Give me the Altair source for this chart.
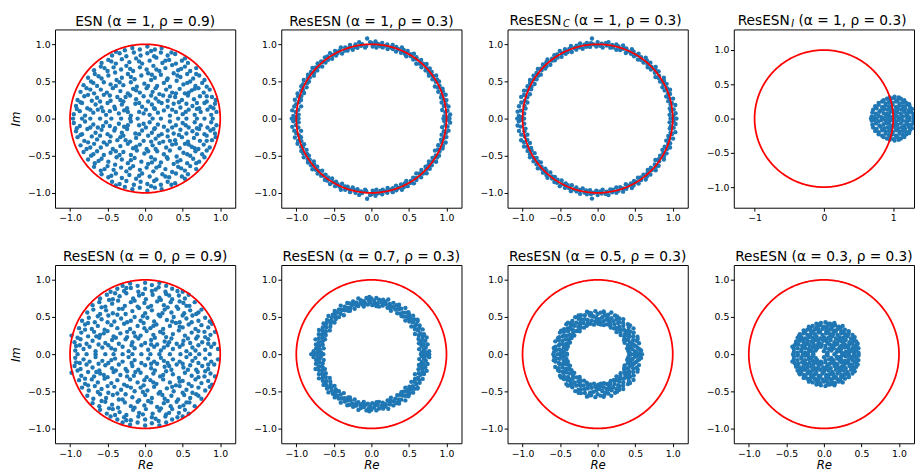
import altair as alt
import numpy as np
import pandas as pd

BLUE = "#1f77b4"
FONT = "DejaVu Sans"

# ---------------- data (eigenvalues) ----------------
# Each "upper" list holds eigenvalues with Im > 0; their complex conjugates are
# also eigenvalues (real matrices), the "real" lists hold the real eigenvalues.

# ESN (alpha=1, rho=0.9): (Re, Im)
esn_upper = [
    (-0.95,0.06),(-0.87,0.1),(-0.8,0.04),(-0.69,0.08),(-0.63,0.12),(-0.52,0.05),(-0.47,0.1),(-0.35,0.07),(-0.28,0.11),(-0.19,0.04),
    (-0.08,0.09),(0.01,0.12),(0.06,0.05),(0.17,0.08),(0.25,0.11),(0.33,0.04),(0.41,0.09),(0.5,0.06),(0.58,0.12),(0.66,0.05),
    (0.74,0.09),(0.83,0.12),(0.88,0.05),(0.95,0.09),
    (-0.92,0.17),(-0.84,0.21),(-0.77,0.14),(-0.66,0.19),(-0.58,0.15),(-0.5,0.21),(-0.41,0.16),(-0.31,0.19),(-0.24,0.14),(-0.13,0.2),
    (-0.04,0.16),(0.09,0.19),(0.12,0.14),(0.22,0.21),(0.3,0.16),(0.38,0.2),(0.47,0.15),(0.55,0.2),(0.63,0.17),(0.72,0.14),
    (0.79,0.21),(0.87,0.16),(0.93,0.2),
    (-0.9,0.25),(-0.81,0.3),(-0.71,0.24),(-0.64,0.28),(-0.55,0.32),(-0.46,0.24),(-0.37,0.29),(-0.29,0.23),(-0.2,0.31),(-0.12,0.26),
    (-0.02,0.3),(0.04,0.23),(0.14,0.27),(0.24,0.31),(0.3,0.24),(0.4,0.29),(0.49,0.25),(0.57,0.31),(0.65,0.26),(0.73,0.3),
    (0.82,0.23),(0.89,0.29),
    (-0.86,0.36),(-0.78,0.41),(-0.68,0.34),(-0.59,0.39),(-0.51,0.35),(-0.43,0.41),(-0.33,0.37),(-0.23,0.34),(-0.16,0.4),(-0.07,0.35),
    (0.02,0.41),(0.1,0.36),(0.19,0.33),(0.28,0.39),(0.36,0.35),(0.46,0.4),(0.53,0.34),(0.62,0.38),(0.71,0.41),(0.78,0.35),(0.86,0.39),
    (-0.82,0.45),(-0.72,0.5),(-0.64,0.44),(-0.55,0.49),(-0.46,0.46),(-0.38,0.52),(-0.29,0.45),(-0.19,0.49),(-0.11,0.43),(-0.01,0.47),
    (0.08,0.52),(0.16,0.44),(0.25,0.48),(0.33,0.43),(0.42,0.51),(0.51,0.46),(0.6,0.5),(0.67,0.44),(0.76,0.48),(0.82,0.43),
    (-0.76,0.55),(-0.67,0.6),(-0.58,0.54),(-0.49,0.58),(-0.4,0.62),(-0.31,0.55),(-0.23,0.6),(-0.14,0.53),(-0.05,0.58),(0.04,0.61),
    (0.13,0.55),(0.21,0.59),(0.3,0.54),(0.38,0.61),(0.47,0.56),(0.56,0.6),(0.64,0.54),(0.72,0.58),
    (-0.68,0.65),(-0.59,0.7),(-0.5,0.64),(-0.42,0.69),(-0.32,0.66),(-0.25,0.71),(-0.16,0.64),(-0.07,0.69),(0.02,0.66),(0.11,0.71),
    (0.19,0.64),(0.27,0.68),(0.36,0.72),(0.44,0.65),(0.53,0.7),(0.6,0.64),(0.68,0.68),
    (-0.58,0.75),(-0.49,0.79),(-0.39,0.74),(-0.31,0.8),(-0.21,0.76),(-0.12,0.81),(-0.04,0.74),(0.06,0.78),(0.15,0.82),(0.23,0.75),
    (0.32,0.79),(0.41,0.74),(0.49,0.78),(0.57,0.75),
    (-0.44,0.85),(-0.34,0.88),(-0.25,0.84),(-0.15,0.89),(-0.06,0.85),(0.03,0.88),(0.12,0.84),(0.21,0.89),(0.3,0.85),(0.4,0.87),
    (-0.27,0.92),(-0.17,0.95),(-0.07,0.93),(0.03,0.97),(0.13,0.93),(0.22,0.95),
    (-0.91,0.13),(-0.73,0.12),(-0.56,0.1),(-0.4,0.13),(-0.23,0.09),(-0.02,0.07),(0.13,0.13),(0.36,0.12),(0.54,0.09),(0.69,0.13),
    (0.91,0.14),(-0.86,0.22),(-0.6,0.23),(-0.33,0.25),(-0.08,0.21),(0.18,0.23),(0.45,0.22),(0.69,0.21),(0.94,0.25),
    (-0.76,0.32),(-0.47,0.31),(-0.26,0.29),(0.08,0.31),(0.33,0.3),(0.58,0.35),(0.82,0.3),
    (-0.73,0.39),(-0.39,0.44),(-0.12,0.38),(0.14,0.41),(0.41,0.34),(0.66,0.4),
    (-0.69,0.48),(-0.34,0.49),(0.04,0.44),(0.29,0.52),(0.56,0.48),(0.79,0.52),
    (-0.62,0.57),(-0.19,0.56),(0.09,0.59),(0.43,0.58),(0.68,0.6),
    (-0.54,0.68),(-0.2,0.67),(0.15,0.66),(0.48,0.67),
    (-0.45,0.77),(-0.08,0.77),(0.27,0.78),(0.53,0.81),
    (-0.39,0.9),(0.08,0.91),(0.35,0.89),
]
esn_real = [-0.96,-0.84,-0.73,-0.6,-0.45,-0.32,-0.2,-0.1,0.1,0.21,0.44,0.55,0.69,0.79,0.9]

# ResESN (alpha=0, rho=0.9): (Re, Im)
res0_upper = [
    (-0.93,0.05),(-0.92,0.11),(-0.82,0.07),(-0.74,0.1),(-0.66,0.04),(-0.57,0.09),(-0.49,0.12),(-0.4,0.06),(-0.3,0.1),(-0.22,0.04),
    (-0.14,0.08),(-0.05,0.12),(0.04,0.06),(0.12,0.1),(0.21,0.05),(0.3,0.12),(0.37,0.07),(0.46,0.1),(0.55,0.04),(0.63,0.09),
    (0.71,0.12),(0.8,0.06),(0.88,0.1),(0.97,0.07),
    (-0.94,0.16),(-0.86,0.2),(-0.78,0.14),(-0.7,0.18),(-0.61,0.22),(-0.53,0.15),(-0.44,0.19),(-0.35,0.14),(-0.26,0.2),(-0.17,0.16),
    (-0.09,0.21),(0.0,0.15),(0.08,0.19),(0.16,0.13),(0.26,0.17),(0.35,0.21),(0.42,0.14),(0.51,0.18),(0.6,0.15),(0.68,0.21),
    (0.76,0.16),(0.84,0.2),(0.92,0.14),
    (-0.98,0.25),(-0.85,0.29),(-0.76,0.24),(-0.68,0.3),(-0.6,0.26),(-0.5,0.31),(-0.42,0.24),(-0.33,0.28),(-0.24,0.23),(-0.15,0.29),
    (-0.06,0.25),(0.02,0.31),(0.11,0.26),(0.2,0.3),(0.28,0.23),(0.37,0.27),(0.45,0.32),(0.53,0.25),(0.62,0.29),(0.7,0.24),
    (0.79,0.3),(0.87,0.26),(0.93,0.3),
    (-0.88,0.35),(-0.8,0.4),(-0.71,0.34),(-0.63,0.38),(-0.54,0.33),(-0.45,0.39),(-0.37,0.35),(-0.28,0.41),(-0.2,0.34),(-0.1,0.38),
    (-0.02,0.42),(0.07,0.35),(0.15,0.4),(0.24,0.34),(0.33,0.38),(0.41,0.42),(0.5,0.36),(0.58,0.4),(0.67,0.34),(0.75,0.39),
    (0.84,0.36),(0.89,0.41),
    (-0.84,0.45),(-0.75,0.49),(-0.67,0.43),(-0.58,0.47),(-0.49,0.52),(-0.41,0.44),(-0.32,0.48),(-0.24,0.43),(-0.14,0.5),(-0.06,0.45),
    (0.03,0.49),(0.12,0.44),(0.2,0.51),(0.29,0.46),(0.38,0.5),(0.46,0.43),(0.55,0.48),(0.63,0.52),(0.71,0.45),(0.8,0.49),
    (-0.77,0.56),(-0.69,0.6),(-0.6,0.54),(-0.52,0.59),(-0.43,0.55),(-0.35,0.61),(-0.26,0.54),(-0.17,0.58),(-0.08,0.62),(0.0,0.55),
    (0.09,0.59),(0.18,0.53),(0.26,0.6),(0.35,0.56),(0.44,0.61),(0.52,0.55),(0.6,0.59),(0.68,0.54),(0.75,0.6),
    (-0.7,0.66),(-0.61,0.7),(-0.53,0.64),(-0.44,0.68),(-0.36,0.72),(-0.27,0.65),(-0.19,0.7),(-0.1,0.64),(-0.01,0.69),(0.08,0.65),
    (0.16,0.71),(0.25,0.66),(0.34,0.7),(0.42,0.64),(0.51,0.69),(0.59,0.65),(0.66,0.7),
    (-0.6,0.75),(-0.51,0.8),(-0.43,0.74),(-0.34,0.78),(-0.25,0.82),(-0.16,0.75),(-0.08,0.79),(0.01,0.74),(0.1,0.8),(0.19,0.76),
    (0.28,0.81),(0.36,0.74),(0.45,0.79),(0.53,0.75),(0.58,0.8),
    (-0.46,0.84),(-0.37,0.88),(-0.28,0.85),(-0.19,0.89),(-0.09,0.84),(0.0,0.88),(0.09,0.85),(0.18,0.9),(0.27,0.84),(0.36,0.88),(0.43,0.85),
    (-0.3,0.92),(-0.2,0.95),(-0.1,0.92),(0.0,0.96),(0.09,0.93),(0.19,0.96),(0.28,0.92),
    (-0.87,0.12),(-0.62,0.13),(-0.45,0.08),(-0.18,0.12),(0.08,0.13),(0.25,0.09),(0.5,0.13),(0.67,0.05),(0.84,0.14),
    (-0.9,0.22),(-0.65,0.24),(-0.39,0.22),(-0.13,0.24),(0.13,0.22),(0.32,0.16),(0.57,0.21),(0.8,0.23),
    (-0.8,0.33),(-0.55,0.28),(-0.24,0.3),(-0.01,0.35),(0.24,0.28),(0.46,0.37),(0.71,0.31),
    (-0.76,0.42),(-0.5,0.43),(-0.19,0.45),(0.11,0.38),(0.36,0.44),(0.62,0.43),(0.86,0.44),
    (-0.63,0.51),(-0.37,0.53),(-0.03,0.51),(0.23,0.55),(0.5,0.52),(0.71,0.56),
    (-0.58,0.63),(-0.3,0.61),(0.04,0.63),(0.3,0.63),(0.55,0.65),
    (-0.48,0.73),(-0.14,0.72),(0.21,0.73),(0.46,0.71),
    (-0.4,0.82),(-0.03,0.81),(0.32,0.79),(0.5,0.84),
    (-0.25,0.89),(0.14,0.87),
]
res0_real = [-0.9,-0.78,-0.66,-0.53,-0.42,-0.3,-0.17,-0.05,0.07,0.19,0.33,0.47,0.6,0.72,0.86]

# ResESN (alpha=1, rho=0.3): (angle in degrees, modulus)
res1_upper_polar = [
    (1,1.03),(2,0.97),(3,1.05),(5,0.99),(6,1.02),(7,0.95),(9,1.04),(10,0.98),(11,1.01),(13,0.96),(14,1.03),(15,1.0),(17,0.97),
    (18,1.04),(19,0.99),(21,1.02),(22,0.96),(23,1.03),(25,0.98),(26,1.01),(27,0.95),(29,1.03),(30,0.99),(31,1.02),(33,0.97),
    (34,1.04),(35,1.0),(37,0.96),(38,1.02),(39,0.98),(41,1.03),(42,0.97),(43,1.0),(45,1.04),(46,0.96),(47,1.01),(49,0.98),
    (50,1.03),(51,0.95),(53,1.0),(54,1.02),(55,0.97),(57,1.04),(58,0.99),(59,1.01),(61,0.96),(62,1.03),(63,0.98),(65,1.02),
    (66,0.97),(67,1.04),(69,1.0),(70,0.96),(71,1.02),(73,0.98),(74,1.03),(75,0.99),(77,0.96),(78,1.02),(79,1.0),(81,0.97),
    (82,1.03),(83,0.98),(85,1.01),(86,0.96),(87,1.04),(88,1.0),(89,0.97),(90,1.02),(91,1.03),(93,1.08),(94,0.98),(95,0.96),
    (97,1.01),(98,0.99),(99,1.04),(101,0.97),(102,1.02),(103,0.99),(105,0.96),(106,1.03),(107,1.0),(109,0.97),(110,1.02),
    (111,0.98),(113,1.04),(114,0.96),(115,1.01),(117,0.99),(118,1.03),(119,0.97),(121,1.0),(122,1.04),(123,0.96),(125,1.02),
    (126,0.98),(127,1.03),(129,0.97),(130,1.0),(131,1.02),(133,0.96),(134,1.03),(135,0.99),(137,1.01),(138,0.97),(139,1.04),
    (141,0.98),(142,1.02),(143,0.96),(145,1.03),(146,0.99),(147,1.01),(149,0.97),(150,1.04),(151,0.98),(153,1.02),(154,0.96),
    (155,1.03),(157,0.99),(158,1.01),(159,0.96),(161,1.04),(162,0.98),(163,1.02),(165,0.97),(166,1.05),(167,0.99),(169,1.02),
    (170,0.95),(171,1.04),(173,0.98),(174,1.06),(175,1.01),(177,0.97),(178,1.04),(179,1.0),
]
res1_real = [-1.06,-1.02,-0.97,0.96,1.0,1.04]

# ResESN_C (alpha=1, rho=0.3): (angle in degrees, modulus)
resc_upper_polar = [
    (2,1.01),(3,0.96),(4,1.04),(6,0.98),(7,1.02),(8,0.97),(10,1.05),(11,0.99),(12,1.01),(14,0.97),(15,1.04),(16,0.99),(18,0.96),
    (19,1.02),(20,1.0),(22,1.04),(23,0.97),(24,1.01),(26,0.96),(27,1.03),(28,0.99),(30,1.02),(31,0.97),(32,1.04),(34,0.98),
    (35,1.0),(36,0.95),(38,1.03),(39,0.98),(40,1.01),(42,1.04),(43,0.97),(44,1.0),(46,0.96),(47,1.03),(48,0.99),(50,1.02),
    (51,0.97),(52,1.04),(54,0.98),(55,1.01),(56,0.96),(58,1.03),(59,1.0),(60,0.97),(62,1.02),(63,0.98),(64,1.04),(66,0.99),
    (67,0.96),(68,1.02),(70,1.0),(71,1.04),(72,0.97),(74,1.01),(75,0.96),(76,1.03),(78,0.98),(79,1.01),(80,0.97),(82,1.04),
    (83,0.99),(84,1.02),(86,0.96),(87,1.01),(88,0.98),(90,1.03),(91,0.97),(93,1.0),(94,1.08),(95,1.02),(96,0.97),(98,1.03),
    (99,0.98),(100,1.01),(102,0.96),(103,1.04),(104,0.99),(106,1.02),(107,0.97),(108,1.0),(110,1.04),(111,0.96),(112,1.01),
    (114,0.98),(115,1.03),(116,0.97),(118,1.0),(119,1.04),(120,0.96),(122,1.02),(123,0.98),(124,1.03),(126,0.97),(127,1.01),
    (128,0.99),(130,1.04),(131,0.96),(132,1.02),(134,0.98),(135,1.03),(136,0.97),(138,1.01),(139,0.99),(140,1.04),(142,0.96),
    (143,1.02),(144,0.98),(146,1.03),(147,0.97),(148,1.0),(150,1.04),(151,0.96),(152,1.02),(154,0.98),(155,1.03),(156,0.97),
    (158,1.01),(159,1.05),(160,0.96),(162,1.03),(163,0.98),(164,1.06),(166,1.0),(167,0.96),(168,1.04),(170,0.99),(171,1.06),
    (172,0.97),(174,1.03),(175,1.07),(176,0.98),(178,1.05),(179,1.01),
]
resc_real = [-1.07,-1.03,-0.98,0.97,1.01,1.05]

# ResESN_I (alpha=1, rho=0.3): (Re, Im)
resi_upper = [
    (0.69,0.03),(0.73,0.02),(0.79,0.04),(0.83,0.02),(0.89,0.03),(0.94,0.05),(0.98,0.02),(1.04,0.04),(1.08,0.02),(1.14,0.03),
    (1.19,0.05),(1.23,0.02),(1.29,0.04),
    (0.7,0.09),(0.75,0.07),(0.8,0.1),(0.86,0.08),(0.91,0.07),(0.96,0.1),(1.01,0.08),(1.06,0.09),(1.11,0.07),(1.16,0.1),
    (1.21,0.08),(1.26,0.09),(1.3,0.07),
    (0.71,0.13),(0.76,0.15),(0.82,0.12),(0.87,0.14),(0.92,0.13),(0.97,0.15),(1.02,0.12),(1.07,0.14),(1.12,0.13),(1.17,0.15),
    (1.22,0.12),(1.27,0.14),
    (0.74,0.18),(0.79,0.2),(0.84,0.17),(0.89,0.19),(0.94,0.18),(0.99,0.2),(1.04,0.17),(1.09,0.19),(1.14,0.18),(1.19,0.2),(1.24,0.17),
    (0.79,0.23),(0.84,0.25),(0.89,0.22),(0.94,0.24),(0.99,0.23),(1.04,0.25),(1.09,0.22),(1.14,0.24),(1.19,0.23),(1.23,0.21),
    (0.86,0.27),(0.91,0.29),(0.96,0.28),(1.01,0.3),(1.06,0.27),(1.11,0.29),(1.16,0.27),
    (0.95,0.31),(1.02,0.32),(1.08,0.31),
]
resi_real = [0.68,0.76,0.85,0.93,1.02,1.11,1.2,1.29]

# ResESN (alpha=0.7, rho=0.3): (angle in degrees, modulus)
res07_upper_polar = [
    (1,0.74),(2,0.67),(3,0.77),(5,0.7),(6,0.64),(7,0.73),(9,0.68),(10,0.76),(11,0.71),(13,0.65),(14,0.74),(15,0.69),(17,0.77),
    (18,0.66),(19,0.72),(21,0.75),(22,0.68),(23,0.71),(25,0.64),(26,0.76),(27,0.7),(29,0.73),(30,0.67),(31,0.75),(33,0.69),
    (34,0.72),(35,0.65),(37,0.77),(38,0.7),(39,0.74),(41,0.67),(42,0.71),(43,0.76),(45,0.64),(46,0.73),(47,0.69),(49,0.75),
    (50,0.66),(51,0.72),(53,0.7),(54,0.77),(55,0.67),(57,0.73),(58,0.65),(59,0.71),(61,0.76),(62,0.68),(63,0.74),(65,0.7),
    (66,0.64),(67,0.75),(69,0.69),(70,0.72),(71,0.66),(73,0.77),(74,0.7),(75,0.73),(77,0.67),(78,0.75),(79,0.71),(81,0.65),
    (82,0.74),(83,0.69),(85,0.76),(86,0.68),(87,0.72),(89,0.66),(90,0.75),(91,0.7),(93,0.73),(94,0.67),(95,0.76),(97,0.69),
    (98,0.72),(99,0.65),(101,0.74),(102,0.7),(103,0.77),(105,0.67),(106,0.72),(107,0.69),(109,0.75),(110,0.65),(111,0.71),
    (113,0.74),(114,0.68),(115,0.76),(117,0.7),(118,0.66),(119,0.73),(121,0.69),(122,0.77),(123,0.71),(125,0.64),(126,0.74),
    (127,0.68),(129,0.72),(130,0.76),(131,0.66),(133,0.7),(134,0.74),(135,0.67),(137,0.72),(138,0.77),(139,0.65),(141,0.71),
    (142,0.75),(143,0.68),(145,0.73),(146,0.66),(147,0.76),(149,0.7),(150,0.64),(151,0.74),(153,0.68),(154,0.72),(155,0.77),
    (157,0.66),(158,0.71),(159,0.75),(161,0.69),(162,0.65),(163,0.73),(165,0.77),(166,0.68),(167,0.72),(169,0.66),(170,0.75),
    (171,0.7),(173,0.64),(174,0.74),(175,0.69),(177,0.77),(178,0.67),(179,0.72),
    (4,0.71),(12,0.67),(16,0.71),(20,0.74),(28,0.7),(36,0.76),(44,0.69),(48,0.74),(52,0.65),(60,0.73),(68,0.67),(76,0.7),
    (84,0.65),(92,0.77),(100,0.68),(108,0.73),(116,0.65),(124,0.72),(132,0.73),(140,0.69),(148,0.72),(156,0.7),(164,0.67),
    (172,0.72),(176,0.71),
]
res07_real = [-0.8,-0.75,-0.69,-0.64,0.66,0.71,0.77]

# ResESN (alpha=0.5, rho=0.3): (angle in degrees, modulus)
res05_upper_polar = [
    (1,0.55),(2,0.43),(4,0.5),(5,0.58),(6,0.41),(8,0.47),(9,0.54),(11,0.4),(12,0.52),(13,0.45),(15,0.57),(16,0.49),(17,0.42),
    (19,0.55),(20,0.46),(22,0.51),(23,0.39),(24,0.58),(26,0.44),(27,0.53),(29,0.48),(30,0.41),(31,0.56),(33,0.5),(34,0.43),
    (36,0.59),(37,0.46),(38,0.52),(40,0.4),(41,0.55),(43,0.48),(44,0.42),(45,0.57),(47,0.45),(48,0.51),(50,0.39),(51,0.54),
    (52,0.47),(54,0.58),(55,0.43),(57,0.5),(58,0.41),(59,0.56),(61,0.46),(62,0.53),(64,0.4),(65,0.49),(66,0.57),(68,0.44),
    (69,0.52),(71,0.47),(72,0.59),(73,0.42),(75,0.55),(76,0.48),(78,0.4),(79,0.53),(80,0.45),(82,0.58),(83,0.5),(85,0.43),
    (86,0.56),(87,0.47),(89,0.41),(90,0.54),(92,0.49),(93,0.58),(94,0.44),(96,0.51),(97,0.4),(99,0.56),(100,0.46),(101,0.53),
    (103,0.42),(104,0.59),(106,0.48),(107,0.44),(108,0.55),(110,0.5),(111,0.41),(113,0.57),(114,0.46),(115,0.52),(117,0.4),
    (118,0.54),(120,0.47),(121,0.58),(122,0.43),(124,0.51),(125,0.45),(127,0.56),(128,0.39),(129,0.49),(131,0.55),(132,0.42),
    (134,0.52),(135,0.47),(136,0.58),(138,0.44),(139,0.53),(141,0.4),(142,0.5),(143,0.56),(145,0.45),(146,0.54),(148,0.41),
    (149,0.48),(150,0.58),(152,0.43),(153,0.52),(155,0.47),(156,0.56),(157,0.4),(159,0.5),(160,0.55),(162,0.44),(163,0.59),
    (164,0.48),(166,0.41),(167,0.53),(169,0.46),(170,0.57),(171,0.42),(173,0.51),(174,0.55),(176,0.45),(177,0.58),(178,0.49),
    (3,0.52),(7,0.56),(10,0.44),(14,0.5),(18,0.48),(21,0.57),(25,0.45),(28,0.4),(32,0.47),(35,0.53),(39,0.49),(42,0.58),
    (49,0.44),(56,0.52),(63,0.57),(67,0.42),(74,0.5),(81,0.56),(84,0.4),(91,0.45),(98,0.52),(102,0.57),(109,0.42),(116,0.58),
    (119,0.48),(126,0.41),(130,0.52),(133,0.58),(137,0.5),(144,0.42),(147,0.58),(151,0.52),(154,0.44),(158,0.57),(161,0.42),
    (165,0.52),(168,0.44),(172,0.59),(175,0.48),(179,0.41),
]
res05_real = [-0.59,-0.53,-0.47,-0.41,0.42,0.48,0.55,0.59]

# ResESN (alpha=0.3, rho=0.3): (Re, Im)
res03_upper = [
    (-0.4,0.03),(-0.35,0.02),(-0.3,0.04),(-0.25,0.02),(-0.2,0.04),(-0.15,0.03),(-0.11,0.05),(0.0,0.04),(0.05,0.02),(0.1,0.05),
    (0.17,0.03),(0.21,0.04),(0.24,0.02),(0.29,0.03),(0.33,0.02),(0.37,0.04),(0.41,0.03),(0.46,0.02),
    (-0.4,0.07),(-0.35,0.08),(-0.3,0.06),(-0.25,0.08),(-0.2,0.07),(-0.15,0.09),(-0.09,0.08),(-0.04,0.1),(0.02,0.08),(0.07,0.07),
    (0.13,0.08),(0.18,0.06),(0.23,0.07),(0.28,0.09),(0.33,0.07),(0.38,0.08),(0.43,0.06),(0.46,0.08),
    (-0.39,0.12),(-0.34,0.13),(-0.29,0.11),(-0.24,0.13),(-0.19,0.12),(-0.14,0.14),(-0.09,0.12),(-0.03,0.13),(0.02,0.11),(0.08,0.13),
    (0.13,0.12),(0.18,0.14),(0.23,0.11),(0.28,0.13),(0.33,0.12),(0.38,0.14),(0.43,0.12),
    (-0.37,0.17),(-0.32,0.18),(-0.27,0.16),(-0.22,0.18),(-0.17,0.17),(-0.12,0.19),(-0.07,0.16),(-0.01,0.18),(0.04,0.17),(0.09,0.19),
    (0.14,0.16),(0.19,0.18),(0.24,0.17),(0.29,0.19),(0.34,0.16),(0.39,0.18),(0.43,0.17),
    (-0.35,0.22),(-0.3,0.23),(-0.25,0.21),(-0.2,0.23),(-0.15,0.22),(-0.1,0.24),(-0.05,0.21),(0.0,0.23),(0.06,0.22),(0.11,0.24),
    (0.16,0.21),(0.21,0.23),(0.26,0.22),(0.31,0.24),(0.36,0.21),(0.41,0.23),
    (-0.32,0.27),(-0.27,0.28),(-0.22,0.26),(-0.17,0.28),(-0.12,0.27),(-0.07,0.29),(-0.02,0.26),(0.03,0.28),(0.08,0.27),(0.13,0.29),
    (0.18,0.26),(0.23,0.28),(0.28,0.27),(0.33,0.29),(0.38,0.26),
    (-0.27,0.32),(-0.22,0.33),(-0.17,0.31),(-0.12,0.33),(-0.07,0.32),(-0.02,0.34),(0.03,0.31),(0.08,0.33),(0.13,0.32),(0.18,0.34),
    (0.23,0.31),(0.28,0.33),(0.33,0.31),
    (-0.2,0.37),(-0.15,0.38),(-0.1,0.36),(-0.05,0.39),(0.0,0.37),(0.05,0.38),(0.1,0.36),(0.15,0.39),(0.2,0.37),(0.25,0.38),
    (-0.1,0.41),(-0.04,0.42),(0.02,0.43),(0.08,0.41),(0.14,0.42),
    (-0.42,0.1),(-0.37,0.15),(-0.32,0.2),(-0.27,0.1),(-0.22,0.14),(-0.17,0.05),(-0.12,0.1),(-0.06,0.14),(0.05,0.15),(0.11,0.1),
    (0.16,0.13),(0.21,0.09),(0.26,0.15),(0.31,0.1),(0.36,0.15),(0.41,0.1),(0.45,0.14),
    (-0.33,0.25),(-0.28,0.2),(-0.18,0.24),(-0.08,0.19),(0.02,0.2),(0.12,0.26),(0.22,0.2),(0.32,0.26),(0.4,0.2),
    (-0.25,0.3),(-0.15,0.3),(-0.05,0.3),(0.05,0.3),(0.16,0.31),(0.26,0.3),
    (-0.18,0.35),(-0.08,0.35),(0.03,0.35),(0.12,0.38),(0.22,0.35),
    (-0.07,0.4),(0.05,0.41),(0.11,0.4),
]
res03_real = [-0.41,-0.35,-0.28,-0.21,-0.14,0.04,0.14,0.27,0.33,0.4,0.46]

# ---------------- panel layout constants ----------------
PANEL_W = 184
PANEL_H = 182
DOM = [-1.2, 1.2]
DOM_I = [-1.3, 1.3]
TICKS = [-1.0, -0.5, 0.0, 0.5, 1.0]
TICKS_I = [-1, 0, 1]


def cloud(upper, real):
    xs = [p[0] for p in upper] + [p[0] for p in upper] + list(real)
    ys = [p[1] for p in upper] + [-p[1] for p in upper] + [0.0] * len(real)
    return pd.DataFrame({"x": xs, "y": ys})


def polar_cloud(upper_polar, real):
    upper = [(r * np.cos(np.radians(a)), r * np.sin(np.radians(a))) for a, r in upper_polar]
    return cloud(upper, real)


# unit circle (reference curve |lambda| = 1)
theta = np.linspace(0.0, 2.0 * np.pi, 361)
circle_df = pd.DataFrame({"x": np.cos(theta), "y": np.sin(theta), "i": np.arange(len(theta))})

one_row = pd.DataFrame({"k": [0]})


def panel(df, title=None, sub_parts=None, dom=DOM, xticks=TICKS, xfmt=".1f",
          xtitle=False, ytitle=False):
    if xtitle:
        xaxis = alt.Axis(values=xticks, format=xfmt, title="Re")
    else:
        xaxis = alt.Axis(values=xticks, format=xfmt, title=None)
    if ytitle:
        yaxis = alt.Axis(values=TICKS, format=".1f", title="Im")
    else:
        yaxis = alt.Axis(values=TICKS, format=".1f", title=None)
    xenc = alt.X("x:Q", scale=alt.Scale(domain=dom, nice=False, zero=False), axis=xaxis)
    yenc = alt.Y("y:Q", scale=alt.Scale(domain=dom, nice=False, zero=False), axis=yaxis)

    pts = alt.Chart(df).mark_circle(size=20, color=BLUE, opacity=1, clip=True).encode(x=xenc, y=yenc)
    circ = alt.Chart(circle_df).mark_line(color="red", strokeWidth=1.8, clip=True).encode(
        x=xenc, y=yenc, order="i:Q")
    layers = [pts, circ]
    if sub_parts is not None:
        main, sub, rest, x0, xs, xr = sub_parts
        layers.append(alt.Chart(one_row).mark_text(
            text=main, align="left", baseline="alphabetic", font=FONT, fontSize=14, color="black"
        ).encode(x=alt.value(x0), y=alt.value(-4.3)))
        layers.append(alt.Chart(one_row).mark_text(
            text=sub, align="left", baseline="alphabetic", font=FONT, fontSize=10,
            fontStyle="italic", color="black"
        ).encode(x=alt.value(xs), y=alt.value(-2.3)))
        layers.append(alt.Chart(one_row).mark_text(
            text=rest, align="left", baseline="alphabetic", font=FONT, fontSize=14, color="black"
        ).encode(x=alt.value(xr), y=alt.value(-4.3)))
    ch = alt.layer(*layers).properties(width=PANEL_W, height=PANEL_H)
    if title is not None:
        ch = ch.properties(title=alt.TitleParams(text=title))
    return ch


p1 = panel(cloud(esn_upper, esn_real), title="ESN (α = 1, ρ = 0.9)", ytitle=True)
p2 = panel(polar_cloud(res1_upper_polar, res1_real), title="ResESN (α = 1, ρ = 0.3)")
p3 = panel(polar_cloud(resc_upper_polar, resc_real),
           sub_parts=("ResESN", "C", "(α = 1, ρ = 0.3)", 2.0, 56.6, 67.5))
p4 = panel(cloud(resi_upper, resi_real),
           sub_parts=("ResESN", "I", "(α = 1, ρ = 0.3)", 4.0, 58.6, 66.0),
           dom=DOM_I, xticks=TICKS_I, xfmt="d")
p5 = panel(cloud(res0_upper, res0_real), title="ResESN (α = 0, ρ = 0.9)", xtitle=True, ytitle=True)
p6 = panel(polar_cloud(res07_upper_polar, res07_real), title="ResESN (α = 0.7, ρ = 0.3)", xtitle=True)
p7 = panel(polar_cloud(res05_upper_polar, res05_real), title="ResESN (α = 0.5, ρ = 0.3)", xtitle=True)
p8 = panel(cloud(res03_upper, res03_real), title="ResESN (α = 0.3, ρ = 0.3)", xtitle=True)

row1 = alt.hconcat(p1, p2, p3, p4, spacing=17)
row2 = alt.hconcat(p5, p6, p7, p8, spacing=17)

chart = (
    alt.vconcat(row1, row2, spacing=27.5)
    .properties(padding={"left": 1, "top": 1, "right": 0, "bottom": 0})
    .configure_view(stroke="black", strokeWidth=1)
    .configure_axis(
        domain=False, grid=False, tickColor="black", tickSize=3.5, tickWidth=1,
        labelFont=FONT, labelFontSize=9.5, labelColor="black", labelPadding=1.5,
        labelFlush=False, labelOverlap=False,
        titleFont=FONT, titleFontSize=12, titleFontStyle="italic", titleFontWeight="normal",
        titleColor="black",
    )
    .configure_axisX(titlePadding=2)
    .configure_axisY(titlePadding=5)
    .configure_title(font=FONT, fontSize=14, fontWeight="normal", color="black",
                     offset=1, baseline="alphabetic", anchor="middle")
)

chart.save("out.html", embed_options={"renderer": "svg", "actions": False})
